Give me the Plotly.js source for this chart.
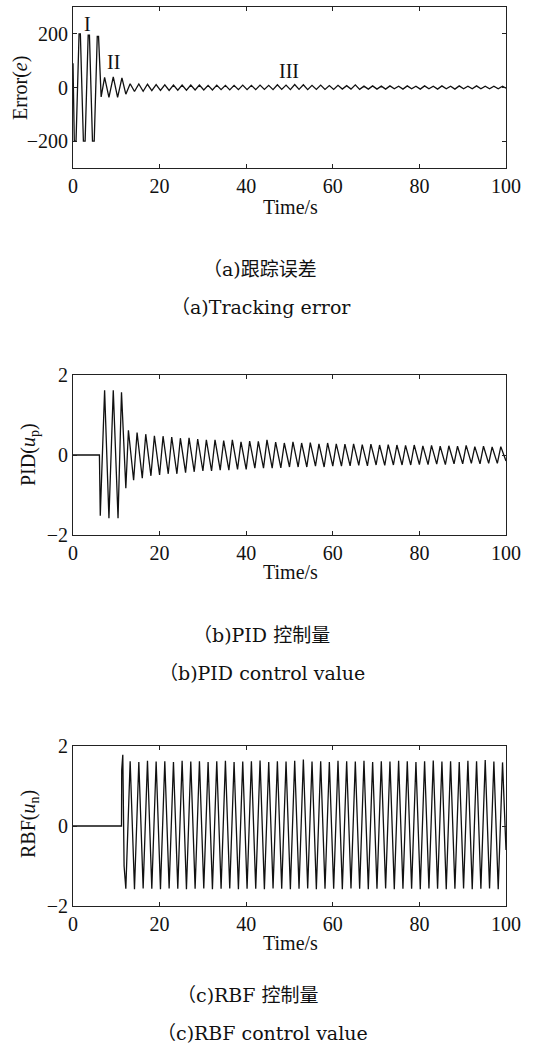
<!DOCTYPE html>
<html>
<head>
<meta charset="utf-8">
<script src="https://cdn.plot.ly/plotly-3.0.1.min.js"></script>
<style>html,body{margin:0;padding:0;background:#fff;}#chart{width:560px;height:1044px;}</style>
</head>
<body>
<div id="chart"></div>
<script>
// ---------- data ----------
// (a) tracking error: extreme points of each half-cycle
const errT = [0,0.3,0.7,1.4,1.7,2.4,2.8,3.5,3.8,4.5,4.9,5.6,5.9,6.5,7.3,8.3,9.3,10.3,11.3,12.2,
  13.2,14.2,15.2,16.2,17.2,18.2,19.2,20.2,21.2,22.2,23.2,24.2,25.2,26.2,27.2,28.2,29.2,30.2,31.2,32.2,
  33.2,34.2,35.2,36.2,37.2,38.2,39.2,40.2,41.2,42.2,43.2,44.2,45.2,46.2,47.2,48.2,49.2,50.2,51.2,52.2,
  53.2,54.2,55.2,56.2,57.2,58.2,59.2,60.2,61.2,62.2,63.2,64.2,65.2,66.2,67.2,68.2,69.2,70.2,71.2,72.2,
  73.2,74.2,75.2,76.2,77.2,78.2,79.2,80.2,81.2,82.2,83.2,84.2,85.2,86.2,87.2,88.2,89.2,90.2,91.2,92.2,
  93.2,94.2,95.2,96.2,97.2,98.2,99.2,100];
const errV = [90,-200,-200,200,200,-200,-200,195,195,-200,-200,190,190,-35,38,-37,40,-37,36,-25,
  14,-15,13,-14,12,-12,11,-11,10,-11,
  9,-10,9,-10,9,-9,9,-9,8,-9,
  9,-8,8,-9,8,-8,9,-8,8,-8,
  9,-7,8,-8,10,-7,9,-8,11,-7,
  10,-8,8,-7,9,-7,7,-7,8,-6,
  7,-6,10,-7,5,-6,6,-6,5,-6,
  6,-5,5,-6,6,-5,5,-6,6,-5,
  5,-6,6,-5,5,-6,6,-5,5,-5,
  6,-5,5,-5,5,-5,5,-3];

// (b) PID control value
const pidT = [0,6.1,6.3,7.3,8.3,9.3,10.4,11.2,12.2,
  12.8,14.0,14.8,16.0,16.8,18.0,18.8,20.0,20.8,22.0,22.8,24.0,24.8,26.0,26.8,28.0,28.8,30.0,30.8,32.0,
  32.8,34.0,34.8,36.0,36.8,38.0,38.8,40.0,40.8,42.0,42.8,44.0,44.8,46.0,46.8,48.0,48.8,50.0,50.8,52.0,
  52.8,54.0,54.8,56.0,56.8,58.0,58.8,60.0,60.8,62.0,62.8,64.0,64.8,66.0,66.8,68.0,68.8,70.0,70.8,72.0,
  72.8,74.0,74.8,76.0,76.8,78.0,78.8,80.0,80.8,82.0,82.8,84.0,84.8,86.0,86.8,88.0,88.8,90.0,90.8,92.0,
  92.8,94.0,94.8,96.0,96.8,98.0,98.8,100.0];
const pidV = [0,0,-1.52,1.62,-1.58,1.62,-1.58,1.57,-0.83,
  0.62,-0.63,0.56,-0.58,0.52,-0.52,0.48,-0.50,0.47,-0.47,0.45,-0.47,0.42,-0.44,0.43,-0.42,0.40,-0.40,0.38,-0.40,
  0.38,-0.38,0.36,-0.38,0.38,-0.36,0.33,-0.36,0.35,-0.33,0.34,-0.33,0.38,-0.33,0.32,-0.32,0.30,-0.30,0.33,-0.30,
  0.30,-0.30,0.31,-0.28,0.28,-0.30,0.30,-0.28,0.28,-0.28,0.27,-0.27,0.28,-0.26,0.26,-0.27,0.27,-0.25,0.25,-0.26,
  0.26,-0.25,0.25,-0.25,0.24,-0.25,0.25,-0.24,0.23,-0.24,0.24,-0.23,0.22,-0.24,0.23,-0.22,0.22,-0.22,0.24,-0.21,
  0.21,-0.22,0.22,-0.21,0.20,-0.21,0.21,-0.15];

// (c) RBF control value
const rbfT = [0,11.2,11.25,11.5,11.8,
  12.2,13.2,14.2,15.2,16.2,17.2,18.2,19.2,20.2,21.2,22.2,23.2,24.2,25.2,26.2,27.2,28.2,29.2,30.2,31.2,
  32.2,33.2,34.2,35.2,36.2,37.2,38.2,39.2,40.2,41.2,42.2,43.2,44.2,45.2,46.2,47.2,48.2,49.2,50.2,51.2,
  52.2,53.2,54.2,55.2,56.2,57.2,58.2,59.2,60.2,61.2,62.2,63.2,64.2,65.2,66.2,67.2,68.2,69.2,70.2,71.2,
  72.2,73.2,74.2,75.2,76.2,77.2,78.2,79.2,80.2,81.2,82.2,83.2,84.2,85.2,86.2,87.2,88.2,89.2,90.2,91.2,
  92.2,93.2,94.2,95.2,96.2,97.2,98.2,99.2,100];
const rbfV = [0,0,1.4,1.78,-1.0,
  -1.57,1.62,-1.58,1.60,-1.56,1.63,-1.57,1.61,-1.58,1.62,-1.56,1.60,-1.57,1.63,-1.58,1.61,-1.57,1.62,-1.56,1.60,
  -1.58,1.62,-1.57,1.63,-1.56,1.60,-1.58,1.61,-1.57,1.62,-1.57,1.64,-1.58,1.60,-1.56,1.62,-1.57,1.61,-1.58,1.63,
  -1.57,1.66,-1.56,1.61,-1.58,1.62,-1.57,1.60,-1.57,1.63,-1.58,1.62,-1.56,1.61,-1.57,1.63,-1.58,1.60,-1.57,1.62,
  -1.56,1.61,-1.58,1.63,-1.57,1.62,-1.57,1.60,-1.58,1.62,-1.56,1.64,-1.57,1.61,-1.58,1.62,-1.57,1.60,-1.56,1.63,
  -1.58,1.62,-1.57,1.65,-1.56,1.61,-1.58,1.59,-0.6];

const xTicks = [0,20,40,60,80,100];
const errTicks = [-200,0,200];
const uTicks = [-2,0,2];

// ---------- layout helpers ----------
const W = 560, H = 1044;
const px = x => x / W;
const py = y => 1 - y / H;
const INK = '#111';
const serif = 'Liberation Serif, Times New Roman, serif';
const capFont = 'DejaVu Serif, Noto Sans CJK SC, serif';

function axisStyle(extra) {
  return Object.assign({
    showline: true, linecolor: '#222', linewidth: 1, mirror: 'ticks',
    ticks: 'inside', ticklen: 4, tickwidth: 1, tickcolor: '#222',
    showgrid: false, zeroline: false, fixedrange: true,
    tickfont: {family: serif, size: 20, color: INK}
  }, extra);
}

const xDom = [px(73), px(506)];
const lineStyle = {color: INK, width: 1.3};

const traces = [
  {x: errT, y: errV, xaxis: 'x', yaxis: 'y', type: 'scatter', mode: 'lines', line: lineStyle, hoverinfo: 'skip'},
  {x: pidT, y: pidV, xaxis: 'x2', yaxis: 'y2', type: 'scatter', mode: 'lines', line: lineStyle, hoverinfo: 'skip'},
  {x: rbfT, y: rbfV, xaxis: 'x3', yaxis: 'y3', type: 'scatter', mode: 'lines', line: lineStyle, hoverinfo: 'skip'}
];

function ann(text, x, y, size, family, extra) {
  return Object.assign({text: text, xref: 'paper', yref: 'paper', x: px(x), y: py(y),
    xanchor: 'center', yanchor: 'middle', showarrow: false,
    font: {family: family, size: size, color: INK}}, extra || {});
}

const annotations = [
  // region labels in (a)
  {text: 'I', xref: 'x', yref: 'y', x: 3.3, y: 238, showarrow: false, xanchor: 'center', yanchor: 'middle', font: {family: serif, size: 20, color: INK}},
  {text: 'II', xref: 'x', yref: 'y', x: 9.3, y: 94, showarrow: false, xanchor: 'center', yanchor: 'middle', font: {family: serif, size: 20, color: INK}},
  {text: 'III', xref: 'x', yref: 'y', x: 49.9, y: 61, showarrow: false, xanchor: 'center', yanchor: 'middle', font: {family: serif, size: 20, color: INK}},
  // axis titles
  ann('Error(<i>e</i>)', 20, 88, 20, serif, {textangle: -90}),
  ann('PID(<i>u</i><sub>p</sub>)', 29, 455, 20, serif, {textangle: -90}),
  ann('RBF(<i>u</i><sub>n</sub>)', 29, 824, 20, serif, {textangle: -90}),
  ann('Time/s', 290, 207, 20, serif),
  ann('Time/s', 290, 572, 20, serif),
  ann('Time/s', 290, 943, 20, serif),
  // captions
  ann('（a)跟踪误差', 260, 269, 19, capFont),
  ann('（a)Tracking error', 261, 307, 19, capFont),
  ann('（b)PID 控制量', 261, 635, 19, capFont),
  ann('（b)PID control value', 262, 673, 19, capFont),
  ann('（c)RBF 控制量', 248, 995, 19, capFont),
  ann('（c)RBF control value', 262, 1033, 19, capFont)
];

const layout = {
  width: W, height: H,
  margin: {l: 0, r: 0, t: 0, b: 0},
  paper_bgcolor: '#fff', plot_bgcolor: '#fff',
  showlegend: false,
  xaxis: axisStyle({domain: xDom, anchor: 'y', range: [0, 100], tickvals: xTicks}),
  yaxis: axisStyle({domain: [py(168), py(7)], anchor: 'x', range: [-300, 300], tickvals: errTicks}),
  xaxis2: axisStyle({domain: xDom, anchor: 'y2', range: [0, 100], tickvals: xTicks}),
  yaxis2: axisStyle({domain: [py(535), py(375)], anchor: 'x2', range: [-2, 2], tickvals: uTicks}),
  xaxis3: axisStyle({domain: xDom, anchor: 'y3', range: [0, 100], tickvals: xTicks}),
  yaxis3: axisStyle({domain: [py(906), py(746)], anchor: 'x3', range: [-2, 2], tickvals: uTicks}),
  annotations: annotations
};

Plotly.newPlot('chart', traces, layout, {displayModeBar: false, staticPlot: true});
</script>
</body>
</html>
